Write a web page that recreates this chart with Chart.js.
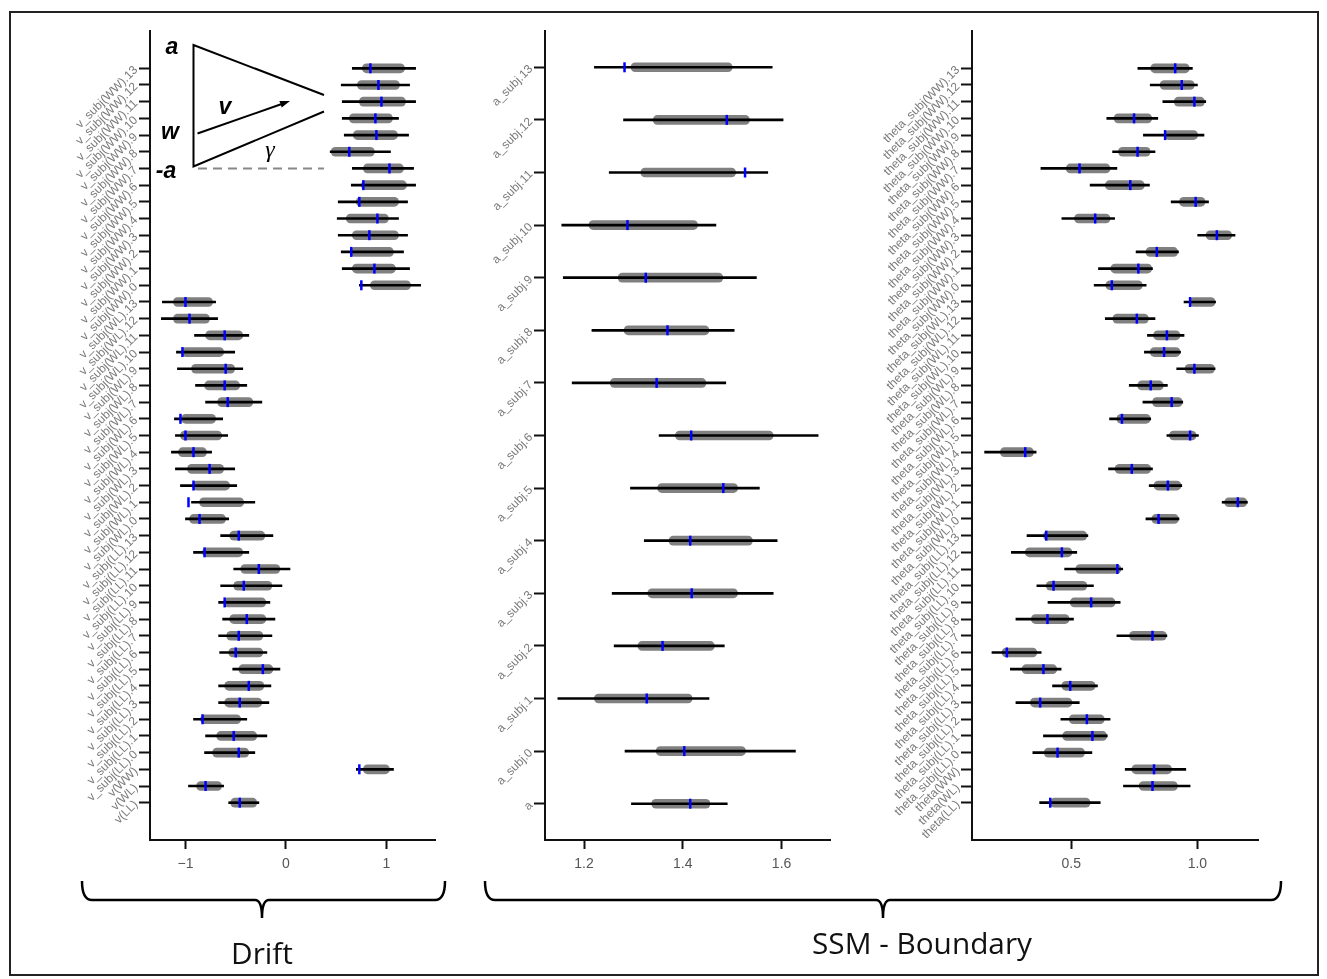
<!DOCTYPE html>
<html><head><meta charset="utf-8">
<script src="https://cdn.jsdelivr.net/npm/chart.js@4.4.1/dist/chart.umd.min.js"></script>
<style>
html,body{margin:0;padding:0;background:#fff;}
#wrap{position:relative;width:1327px;height:979px;overflow:hidden;background:#fff;}
canvas{position:absolute;}
svg{position:absolute;left:0;top:0;}
</style></head><body>
<div id="wrap">
<canvas id="c1" width="440" height="870" style="left:10px;top:15px"></canvas>
<canvas id="c2" width="390" height="870" style="left:455px;top:15px"></canvas>
<canvas id="c3" width="425" height="870" style="left:850px;top:15px"></canvas>
<svg width="1327" height="979">
  <rect x="10" y="12" width="1308" height="963" fill="none" stroke="#222" stroke-width="2"/>
  <g stroke="#000" stroke-width="2" fill="none">
    <polyline points="324,95 193.5,45 193.5,166.5 324,111.5"/>
    <line x1="197.5" y1="133.5" x2="281" y2="104.3"/>
  </g>
  <polygon points="290,101 281.7,107.6 279.4,101" fill="#000"/>
  <line x1="198" y1="168.5" x2="324" y2="168.5" stroke="#888" stroke-width="2" stroke-dasharray="9,6"/>
  <g font-family="Liberation Sans, Arial, sans-serif" font-weight="bold" font-style="italic" font-size="23" text-anchor="middle" fill="#000">
    <text x="172" y="54">a</text>
    <text x="170" y="139">w</text>
    <text x="166" y="178">-a</text>
    <text x="225" y="114">v</text>
  </g>
  <text x="270" y="157" font-family="Liberation Serif, serif" font-style="italic" font-size="24" text-anchor="middle">γ</text>
  <g stroke="#000" stroke-width="2.5" fill="none">
    <path d="M82,881 Q82,900 92,900 L255,900 Q262,900 262,918 Q262,900 269,900 L435,900 Q445,900 445,881"/>
    <path d="M485,881 Q485,900 495,900 L876,900 Q883,900 883,918 Q883,900 890,900 L1271,900 Q1281,900 1281,881"/>
  </g>
  <text x="262" y="964" font-family="Open Sans, sans-serif" font-size="30" text-anchor="middle" fill="#111" textLength="62" lengthAdjust="spacingAndGlyphs">Drift</text>
  <text x="922" y="954" font-family="Open Sans, sans-serif" font-size="30" text-anchor="middle" fill="#111" textLength="220" lengthAdjust="spacingAndGlyphs">SSM - Boundary</text>
</svg>
</div>
<script>
// ---------- Panel 1: drift rate v (row 0 = bottom) ----------
const driftLabels = ['v(LL)','v(WL)','v(WW)',
 'v_subj(LL).0','v_subj(LL).1','v_subj(LL).2','v_subj(LL).3','v_subj(LL).4','v_subj(LL).5','v_subj(LL).6','v_subj(LL).7','v_subj(LL).8','v_subj(LL).9','v_subj(LL).10','v_subj(LL).11','v_subj(LL).12','v_subj(LL).13',
 'v_subj(WL).0','v_subj(WL).1','v_subj(WL).2','v_subj(WL).3','v_subj(WL).4','v_subj(WL).5','v_subj(WL).6','v_subj(WL).7','v_subj(WL).8','v_subj(WL).9','v_subj(WL).10','v_subj(WL).11','v_subj(WL).12','v_subj(WL).13',
 'v_subj(WW).0','v_subj(WW).1','v_subj(WW).2','v_subj(WW).3','v_subj(WW).4','v_subj(WW).5','v_subj(WW).6','v_subj(WW).7','v_subj(WW).8','v_subj(WW).9','v_subj(WW).10','v_subj(WW).11','v_subj(WW).12','v_subj(WW).13'];
const driftLow95  = [-0.57,-0.97,0.70, -0.81,-0.80,-0.92,-0.67,-0.67,-0.53,-0.66,-0.67,-0.63,-0.67,-0.65,-0.52,-0.92,-0.65, -1.00,-0.94,-1.05,-1.10,-1.14,-1.10,-1.11,-0.80,-0.90,-1.08,-1.09,-0.91,-1.24,-1.23, 0.73,0.56,0.55,0.52,0.51,0.52,0.65,0.66,0.44,0.58,0.56,0.56,0.55,0.66];
const driftLow50  = [-0.55,-0.89,0.77, -0.73,-0.69,-0.85,-0.61,-0.61,-0.47,-0.57,-0.59,-0.56,-0.62,-0.52,-0.45,-0.83,-0.56, -0.96,-0.86,-0.93,-0.98,-1.07,-1.05,-1.04,-0.68,-0.81,-0.94,-1.04,-0.80,-1.12,-1.12, 0.84,0.66,0.64,0.66,0.60,0.70,0.75,0.77,0.45,0.67,0.63,0.73,0.71,0.76];
const driftMedian = [-0.46,-0.80,0.73, -0.47,-0.52,-0.83,-0.46,-0.37,-0.23,-0.50,-0.47,-0.39,-0.61,-0.42,-0.27,-0.81,-0.47, -0.86,-0.97,-0.92,-0.76,-0.92,-1.00,-1.05,-0.58,-0.61,-0.60,-1.03,-0.61,-0.96,-1.00, 0.75,0.88,0.65,0.83,0.91,0.73,0.77,1.03,0.63,0.90,0.89,0.95,0.92,0.84];
const driftHigh50 = [-0.29,-0.64,1.03, -0.37,-0.29,-0.45,-0.24,-0.22,-0.13,-0.23,-0.23,-0.20,-0.20,-0.14,-0.06,-0.43,-0.21, -0.60,-0.42,-0.56,-0.62,-0.79,-0.64,-0.70,-0.33,-0.46,-0.51,-0.62,-0.43,-0.76,-0.73, 1.24,1.09,1.07,1.12,1.02,1.12,1.20,1.17,0.88,1.11,1.06,1.19,1.13,1.18];
const driftHigh95 = [-0.27,-0.62,1.07, -0.31,-0.19,-0.39,-0.17,-0.15,-0.06,-0.19,-0.14,-0.11,-0.16,-0.04,0.04,-0.37,-0.13, -0.57,-0.31,-0.49,-0.51,-0.74,-0.58,-0.63,-0.24,-0.39,-0.43,-0.51,-0.37,-0.68,-0.70, 1.34,1.23,1.17,1.21,1.12,1.21,1.29,1.27,1.04,1.22,1.12,1.29,1.23,1.29];
const driftTicks = [-1, 0, 1];
const driftTickLabels = ['\u22121', '0', '1'];

// ---------- Panel 2: boundary a ----------
const boundaryLabels = ['a','a_subj.0','a_subj.1','a_subj.2','a_subj.3','a_subj.4','a_subj.5','a_subj.6','a_subj.7','a_subj.8','a_subj.9','a_subj.10','a_subj.11','a_subj.12','a_subj.13'];
const boundaryLow95  = [1.296,1.283,1.147,1.261,1.257,1.322,1.294,1.352,1.176,1.216,1.158,1.155,1.251,1.280,1.221];
const boundaryLow50  = [1.337,1.346,1.221,1.309,1.329,1.372,1.349,1.385,1.253,1.281,1.269,1.210,1.315,1.340,1.295];
const boundaryMedian = [1.415,1.403,1.327,1.359,1.418,1.415,1.482,1.417,1.347,1.369,1.325,1.288,1.526,1.489,1.282];
const boundaryHigh50 = [1.455,1.527,1.419,1.464,1.511,1.541,1.511,1.583,1.447,1.453,1.481,1.430,1.507,1.535,1.500];
const boundaryHigh95 = [1.490,1.628,1.453,1.484,1.583,1.591,1.555,1.674,1.487,1.504,1.549,1.467,1.572,1.603,1.581];
const boundaryTicks = [1.2, 1.4, 1.6];
const boundaryTickLabels = ['1.2', '1.4', '1.6'];

// ---------- Panel 3: theta ----------
const thetaLabels = ['theta(LL)','theta(WL)','theta(WW)',
 'theta_subj(LL).0','theta_subj(LL).1','theta_subj(LL).2','theta_subj(LL).3','theta_subj(LL).4','theta_subj(LL).5','theta_subj(LL).6','theta_subj(LL).7','theta_subj(LL).8','theta_subj(LL).9','theta_subj(LL).10','theta_subj(LL).11','theta_subj(LL).12','theta_subj(LL).13',
 'theta_subj(WL).0','theta_subj(WL).1','theta_subj(WL).2','theta_subj(WL).3','theta_subj(WL).4','theta_subj(WL).5','theta_subj(WL).6','theta_subj(WL).7','theta_subj(WL).8','theta_subj(WL).9','theta_subj(WL).10','theta_subj(WL).11','theta_subj(WL).12','theta_subj(WL).13',
 'theta_subj(WW).0','theta_subj(WW).1','theta_subj(WW).2','theta_subj(WW).3','theta_subj(WW).4','theta_subj(WW).5','theta_subj(WW).6','theta_subj(WW).7','theta_subj(WW).8','theta_subj(WW).9','theta_subj(WW).10','theta_subj(WW).11','theta_subj(WW).12','theta_subj(WW).13'];
const thetaLow95  = [0.375,0.707,0.714, 0.348,0.390,0.459,0.281,0.426,0.259,0.186,0.681,0.281,0.408,0.364,0.474,0.263,0.325, 0.796,1.098,0.809,0.648,0.157,0.879,0.652,0.784,0.730,0.918,0.790,0.802,0.635,0.947, 0.591,0.608,0.757,1.001,0.463,0.896,0.575,0.380,0.664,0.786,0.641,0.863,0.813,0.764];
const thetaLow50  = [0.417,0.769,0.740, 0.393,0.466,0.492,0.338,0.463,0.305,0.226,0.731,0.342,0.496,0.401,0.518,0.318,0.390, 0.819,1.108,0.828,0.674,0.219,0.889,0.681,0.822,0.763,0.951,0.813,0.826,0.665,0.968, 0.637,0.657,0.796,1.034,0.513,0.929,0.635,0.480,0.687,0.868,0.670,0.908,0.852,0.815];
const thetaMedian = [0.417,0.822,0.828, 0.446,0.584,0.562,0.377,0.496,0.390,0.245,0.822,0.406,0.579,0.430,0.683,0.463,0.401, 0.846,1.160,0.883,0.740,0.318,0.971,0.701,0.898,0.815,0.988,0.868,0.879,0.760,0.971, 0.661,0.766,0.839,1.077,0.595,0.993,0.734,0.533,0.763,0.872,0.749,0.988,0.938,0.912];
const thetaHigh50 = [0.575,0.921,0.898, 0.553,0.641,0.631,0.503,0.595,0.443,0.364,0.877,0.492,0.674,0.562,0.697,0.503,0.562, 0.925,1.196,0.935,0.815,0.351,0.995,0.813,0.940,0.865,1.068,0.931,0.931,0.806,1.070, 0.782,0.819,0.922,1.136,0.654,1.030,0.790,0.654,0.813,1.001,0.819,1.028,0.988,0.968];
const thetaHigh95 = [0.615,0.971,0.954, 0.582,0.643,0.654,0.532,0.604,0.460,0.381,0.879,0.509,0.694,0.588,0.704,0.522,0.566, 0.927,1.198,0.938,0.822,0.361,1.004,0.815,0.942,0.881,1.070,0.933,0.947,0.832,1.072, 0.797,0.822,0.925,1.149,0.672,1.044,0.810,0.681,0.832,1.026,0.843,1.033,1.000,0.980];
const thetaTicks = [0.5, 1.0];
const thetaTickLabels = ['0.5', '1.0'];

Chart.defaults.font.family = "'Liberation Sans', Arial, sans-serif";

function makePanel(o) {
  const idx = o.labels.map((_, i) => i);
  return new Chart(document.getElementById(o.id), {
    type: 'bar',
    data: {
      datasets: [
        { type: 'scatter', data: idx.map(i => ({ x: o.med[i], y: i })),
          pointStyle: 'line', pointRotation: 90, pointRadius: 5, pointHoverRadius: 5,
          pointBorderColor: '#0000ff', pointBackgroundColor: '#0000ff', pointBorderWidth: 2.5,
          borderColor: '#0000ff', order: 1 },
        { type: 'bar', indexAxis: 'y', grouped: false,
          data: idx.map(i => ({ y: i, x: [o.lo95[i], o.hi95[i]] })),
          backgroundColor: '#000', barThickness: 2, order: 2 },
        { type: 'bar', indexAxis: 'y', grouped: false,
          data: idx.map(i => ({ y: i, x: [o.lo50[i], o.hi50[i]] })),
          backgroundColor: '#808080', barThickness: 9, borderRadius: 5, borderSkipped: false, order: 3 }
      ]
    },
    options: {
      responsive: false, animation: false, events: [],
      layout: { padding: { left: 0, top: 16, right: o.padRight, bottom: 0 } },
      plugins: { legend: { display: false }, tooltip: { enabled: false } },
      scales: {
        x: {
          type: 'linear', position: 'bottom', min: o.xMin, max: o.xMax, bounds: 'data',
          offset: false, beginAtZero: false, grace: 0,
          afterBuildTicks: s => { s.ticks = o.xTicks.map(v => ({ value: v })); },
          afterFit: s => { s.height = 45; },
          ticks: { autoSkip: false, maxRotation: 0, padding: 7, color: '#555',
                   font: { size: 14 }, callback: (v, i) => o.xTickLabels[i] },
          grid: { display: true, offset: false, drawOnChartArea: false, drawTicks: true, tickLength: 9, tickWidth: 2, tickColor: '#111' },
          border: { display: true, color: '#111', width: 2 }
        },
        y: {
          type: 'linear', position: 'left', min: o.yMin, max: o.yMax, bounds: 'data',
          offset: false, beginAtZero: false, grace: 0,
          afterBuildTicks: s => { s.ticks = idx.map(v => ({ value: v })); },
          afterFit: s => { s.width = o.yWidth; },
          ticks: { autoSkip: false, minRotation: 45, maxRotation: 45, padding: 3, color: '#7a7a7a',
                   font: { size: 12 }, callback: (v, i) => o.labels[i] },
          grid: { display: true, offset: false, drawOnChartArea: false, drawTicks: true, tickLength: 11, tickWidth: 2, tickColor: '#111' },
          border: { display: true, color: '#111', width: 2 }
        }
      }
    }
  });
}

makePanel({ id: 'c1', labels: driftLabels, lo95: driftLow95, lo50: driftLow50, med: driftMedian,
  hi50: driftHigh50, hi95: driftHigh95, xMin: -1.353, xMax: 1.483, yMin: -2.235, yMax: 46.235,
  xTicks: driftTicks, xTickLabels: driftTickLabels, yWidth: 140, padRight: 15 });
makePanel({ id: 'c2', labels: boundaryLabels, lo95: boundaryLow95, lo50: boundaryLow50, med: boundaryMedian,
  hi50: boundaryHigh50, hi95: boundaryHigh95, xMin: 1.121, xMax: 1.698, yMin: -0.69, yMax: 14.69,
  xTicks: boundaryTicks, xTickLabels: boundaryTickLabels, yWidth: 90, padRight: 15 });
makePanel({ id: 'c3', labels: thetaLabels, lo95: thetaLow95, lo50: thetaLow50, med: thetaMedian,
  hi50: thetaHigh50, hi95: thetaHigh95, xMin: 0.107, xMax: 1.24, yMin: -2.235, yMax: 46.235,
  xTicks: thetaTicks, xTickLabels: thetaTickLabels, yWidth: 122, padRight: 17 });
</script>
</body></html>
